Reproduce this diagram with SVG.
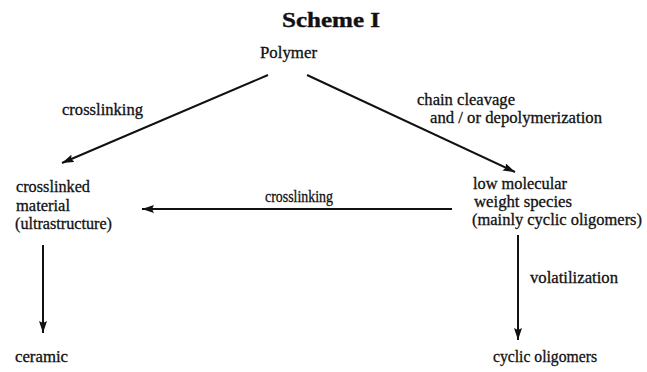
<svg xmlns="http://www.w3.org/2000/svg" width="647" height="372" viewBox="0 0 647 372">
<style>
  text { font-family: "Liberation Serif", "Times New Roman", serif; font-size: 16.5px; fill: #111; stroke: #111; stroke-width: 0.3; }
  .title { font-weight: bold; font-size: 22px; stroke-width: 0.4; }
  .conn line { stroke: #111; stroke-width: 2; fill: none; }
</style>
<defs>
  <marker id="ah" markerUnits="userSpaceOnUse" markerWidth="13" markerHeight="8" refX="12" refY="4" orient="auto">
    <path d="M0,0 L12,4 L0,8 L2,4 z" fill="#111"/>
  </marker>
</defs>
<rect width="647" height="372" fill="#fff"/>
<text class="title" x="282" y="27" textLength="98" lengthAdjust="spacingAndGlyphs">Scheme I</text>

<g id="polymer"><text x="260" y="58" textLength="57" lengthAdjust="spacingAndGlyphs">Polymer</text></g>
<g id="crosslinked-material">
  <text x="16" y="192" textLength="74" lengthAdjust="spacingAndGlyphs">crosslinked</text>
  <text x="16" y="211" textLength="54" lengthAdjust="spacingAndGlyphs">material</text>
  <text x="15" y="229" textLength="97" lengthAdjust="spacingAndGlyphs">(ultrastructure)</text>
</g>
<g id="low-molecular">
  <text x="473" y="189" textLength="94" lengthAdjust="spacingAndGlyphs">low molecular</text>
  <text x="474" y="207" textLength="98" lengthAdjust="spacingAndGlyphs">weight species</text>
  <text x="472" y="225" textLength="170" lengthAdjust="spacingAndGlyphs">(mainly cyclic oligomers)</text>
</g>
<g id="ceramic"><text x="15" y="362" textLength="53" lengthAdjust="spacingAndGlyphs">ceramic</text></g>
<g id="cyclic-oligomers"><text x="493" y="362" textLength="104" lengthAdjust="spacingAndGlyphs">cyclic oligomers</text></g>

<g class="conn" id="connectors">
  <line x1="268" y1="75" x2="62" y2="163" marker-end="url(#ah)"/>
  <line x1="307" y1="75" x2="515" y2="172" marker-end="url(#ah)"/>
  <line x1="452" y1="209" x2="142" y2="209" marker-end="url(#ah)"/>
  <line x1="43" y1="245" x2="43" y2="333" marker-end="url(#ah)"/>
  <line x1="518" y1="235" x2="518" y2="340" marker-end="url(#ah)"/>
  <text x="62" y="115" textLength="81" lengthAdjust="spacingAndGlyphs">crosslinking</text>
  <text x="417" y="105" textLength="98" lengthAdjust="spacingAndGlyphs">chain cleavage</text>
  <text x="430" y="123" textLength="172" lengthAdjust="spacingAndGlyphs">and / or depolymerization</text>
  <text x="265" y="202" textLength="68" lengthAdjust="spacingAndGlyphs">crosslinking</text>
  <text x="530" y="283" textLength="88" lengthAdjust="spacingAndGlyphs">volatilization</text>
</g>
</svg>
